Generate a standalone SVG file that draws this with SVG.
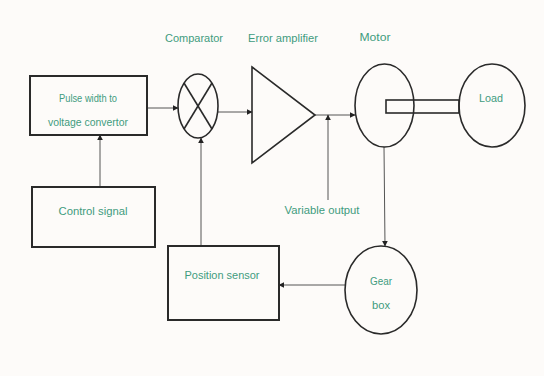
<svg xmlns="http://www.w3.org/2000/svg" width="544" height="376" viewBox="0 0 544 376">
<defs>
<marker id="ah" viewBox="0 0 10 10" refX="9" refY="5" markerWidth="6" markerHeight="6" orient="auto" markerUnits="userSpaceOnUse">
<path d="M0,0 L10,5 L0,10 z" fill="#222"/>
</marker>
<style>
.box{fill:none;stroke:#2a2a2a;stroke-width:2}
.shape{fill:none;stroke:#2a2a2a;stroke-width:1.6}
.ln{fill:none;stroke:#555;stroke-width:1}
.t{font-family:"Liberation Sans",Arial,sans-serif;font-size:10.5px;fill:#3f9c7e;text-anchor:middle;dominant-baseline:central}
</style>
</defs>
<rect width="544" height="376" fill="#fdfbf9"/>
<g id="connectors">
<line class="ln" x1="147" y1="108" x2="178" y2="108" marker-end="url(#ah)"/>
<line class="ln" x1="218" y1="112" x2="252" y2="112" marker-end="url(#ah)"/>
<line class="ln" x1="315" y1="115" x2="355" y2="115" marker-end="url(#ah)"/>
<line class="ln" x1="328" y1="200" x2="328" y2="115" marker-end="url(#ah)"/>
<line class="ln" x1="100" y1="187" x2="100" y2="135" marker-end="url(#ah)"/>
<line class="ln" x1="201" y1="246" x2="201" y2="138" marker-end="url(#ah)"/>
<line class="ln" x1="384" y1="147" x2="385" y2="246" marker-end="url(#ah)"/>
<line class="ln" x1="345" y1="285" x2="279" y2="285" marker-end="url(#ah)"/>
</g>
<g id="pulse-width">
<rect class="box" x="30" y="76" width="117" height="59"/>
<text class="t" x="88" y="98" textLength="58" lengthAdjust="spacingAndGlyphs">Pulse width to</text>
<text class="t" x="88" y="122" textLength="80" lengthAdjust="spacingAndGlyphs">voltage convertor</text>
</g>
<g id="comparator">
<ellipse class="shape" cx="198" cy="106" rx="20" ry="32"/>
<line class="shape" x1="184" y1="83" x2="212" y2="129"/>
<line class="shape" x1="212" y1="83" x2="184" y2="129"/>
<text class="t" x="194" y="38" textLength="58" lengthAdjust="spacingAndGlyphs">Comparator</text>
</g>
<g id="error-amplifier">
<polygon class="shape" points="252,67 315,115 252,163"/>
<text class="t" x="283" y="38" textLength="70" lengthAdjust="spacingAndGlyphs">Error amplifier</text>
</g>
<g id="variable-output">
<text class="t" x="322" y="210" textLength="75" lengthAdjust="spacingAndGlyphs">Variable output</text>
</g>
<g id="motor">
<ellipse class="shape" cx="384.5" cy="105.5" rx="29.5" ry="41.5"/>
<text class="t" x="375" y="37" textLength="31" lengthAdjust="spacingAndGlyphs">Motor</text>
</g>
<g id="shaft">
<rect class="shape" x="386" y="100" width="73" height="13" fill="#fdfbf9"/>
</g>
<g id="load">
<ellipse class="shape" cx="492" cy="105.5" rx="33" ry="41.5"/>
<text class="t" x="491" y="98" textLength="24" lengthAdjust="spacingAndGlyphs">Load</text>
</g>
<g id="control-signal">
<rect class="box" x="32" y="187" width="123" height="60"/>
<text class="t" x="93" y="211" textLength="69" lengthAdjust="spacingAndGlyphs">Control signal</text>
</g>
<g id="position-sensor">
<rect class="box" x="168" y="246" width="111" height="74"/>
<text class="t" x="222" y="275" textLength="75" lengthAdjust="spacingAndGlyphs">Position sensor</text>
</g>
<g id="gear-box">
<ellipse class="shape" cx="381" cy="290" rx="36" ry="44"/>
<text class="t" x="381" y="281" textLength="22" lengthAdjust="spacingAndGlyphs">Gear</text>
<text class="t" x="381" y="305" textLength="18" lengthAdjust="spacingAndGlyphs">box</text>
</g>
</svg>
